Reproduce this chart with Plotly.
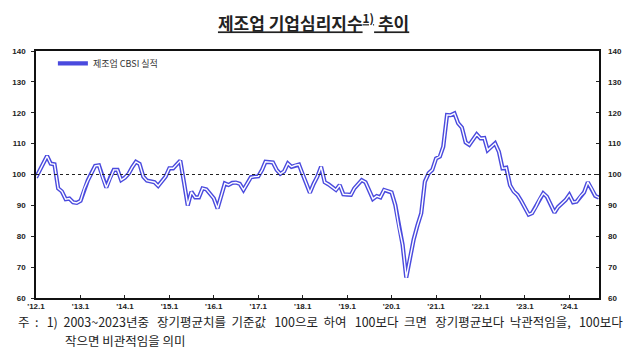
import pandas as pd
import plotly.graph_objects as go

# Monthly manufacturing CBSI, 2012.1 - 2024.9
cbsi = [
    99, 101.5, 104, 106, 103.5, 103.3, 95.5, 94.5, 92, 92.2, 91, 90.8,          # 2012
    91.5, 95.5, 98, 100.5, 102.8, 103, 99, 95.8, 99, 101.5, 101.5, 98.2,        # 2013
    99, 100.3, 102.3, 104.1, 103.4, 99.3, 98, 97.7, 97.5, 96.3, 98, 99.3,       # 2014
    102, 102, 103.2, 104.5, 97.5, 90, 94.4, 92.6, 92.6, 95.5, 95.2, 93.8,       # 2015
    92.3, 89, 93, 97.1, 96.6, 97.3, 97.4, 97, 95, 97.2, 99.1, 99.3,             # 2016
    99.4, 101.5, 104.1, 104, 103.9, 101.5, 100.2, 101, 103.6, 102.5, 103, 103.2, # 2017
    100, 97, 94.1, 97, 99.3, 102.5, 97.5, 96.8, 96, 95, 96.6, 93.6,             # 2018
    93.5, 93.4, 95.5, 96.8, 98.2, 97.5, 95, 92.1, 93, 92.6, 95, 94.5,           # 2019
    94.2, 90.1, 83, 77.2, 66.6, 73, 79, 83.5, 87.4, 97.7, 100.4, 101.5,         # 2020
    105.2, 105.8, 109, 119.3, 119.2, 119.8, 116.6, 115.2, 110.4, 109.6, 111.5, 113,  # 2021
    111.7, 111.8, 107.9, 109, 110.1, 107.4, 102, 102.2, 96.5, 94.5, 93.4, 91.5, # 2022
    89, 87, 87.5, 89.5, 92, 93.9, 92.8, 90.5, 87.7, 89.5, 90.5, 91.7,           # 2023
    93.4, 91, 91.2, 93, 94.2, 97.5, 95.5, 93.1, 92.5,                           # 2024
]
months = pd.date_range("2012-01-01", periods=len(cbsi), freq="MS")

tick_dates = pd.date_range("2012-01-01", "2024-01-01", freq="YS")
tick_text = ["'%02d.1" % (d.year % 100) for d in tick_dates]
y_ticks = [60, 70, 80, 90, 100, 110, 120, 130, 140]

series_name = "제조업 CBSI 실적"
title_text = "<b><u>제조업 기업심리지수<sup>1)</sup> 추이</u></b>"
note1_words = ["주", ":", "1)", "2003~2023년중", "장기평균치를", "기준값", "100으로", "하여",
               "100보다", "크면", "장기평균보다", "낙관적임을,", "100보다"]
note2 = "작으면 비관적임을 의미"

NB = "\u00a0"
THIN = "\u2009"
note1 = note1_words[0]
for i, w in enumerate(note1_words[1:]):
    gap = NB * 2 + (THIN if i % 2 == 1 else "")
    note1 += gap + w

blue = "#4a4ade"

fig = go.Figure()
fig.add_trace(go.Scatter(x=months, y=cbsi, mode="lines", name=series_name,
                         line=dict(color=blue, width=4.2), showlegend=True))
fig.add_trace(go.Scatter(x=months, y=cbsi, mode="lines", name=series_name,
                         line=dict(color="#ffffff", width=1.4), showlegend=False,
                         hoverinfo="skip"))
# invisible trace to anchor right axis
fig.add_trace(go.Scatter(x=months, y=cbsi, mode="lines", yaxis="y2",
                         line=dict(width=0), opacity=0, showlegend=False,
                         hoverinfo="skip"))

fig.add_hline(y=100, line=dict(color="#222222", width=1, dash="dot"))

xrange = [months[0], months[-1]]
axis_font = dict(family="Arial, Liberation Sans, sans-serif", size=8, color="#222222",
                 weight="bold")

fig.update_layout(
    width=640, height=349,
    margin=dict(l=36, r=41, t=51, b=51),
    paper_bgcolor="white", plot_bgcolor="white",
    title=dict(text=title_text, x=0.49, xanchor="center", y=0.93, yanchor="middle",
               font=dict(family="Noto Sans CJK KR", size=17, color="#222222")),
    showlegend=True,
    legend=dict(x=0.03, y=0.95, xanchor="left", yanchor="middle",
                bgcolor="rgba(0,0,0,0)", itemwidth=30,
                font=dict(family="Noto Sans CJK KR", size=9, color="#333333")),
    xaxis=dict(range=xrange, tickvals=tick_dates, ticktext=tick_text,
               ticks="inside", ticklen=3, tickcolor="#222", showgrid=False,
               zeroline=False, showline=True, linecolor="#111111", linewidth=1.5,
               mirror=True, ticklabelstandoff=0,
               tickfont=dict(family="Liberation Sans Narrow, Arial Narrow, Arial", size=8,
                             color="#222222", weight="bold")),
    yaxis=dict(range=[60, 140], tickvals=y_ticks, ticks="outside", ticklen=3,
               tickcolor="#222", showgrid=False, zeroline=False, showline=True,
               linecolor="#111111", linewidth=1.5, mirror=True,
               tickfont=axis_font, ticklabelstandoff=4),
    yaxis2=dict(range=[60, 140], tickvals=y_ticks, overlaying="y", side="right",
                ticks="inside", ticklen=3, tickcolor="#222", showgrid=False,
                zeroline=False, showline=False, tickfont=axis_font,
                ticklabelstandoff=8),
)

fig.add_annotation(text=note1, xref="paper", yref="paper", x=-0.033, y=-0.096,
                   xanchor="left", yanchor="middle", showarrow=False, borderpad=0,
                   font=dict(family="Noto Sans CJK KR", size=12.5, color="#222222"))
fig.add_annotation(text=note2, xref="paper", yref="paper", x=0.05, y=-0.171,
                   xanchor="left", yanchor="middle", showarrow=False, borderpad=0,
                   font=dict(family="Noto Sans CJK KR", size=12.5, color="#222222"))

fig.write_html("out.html")
